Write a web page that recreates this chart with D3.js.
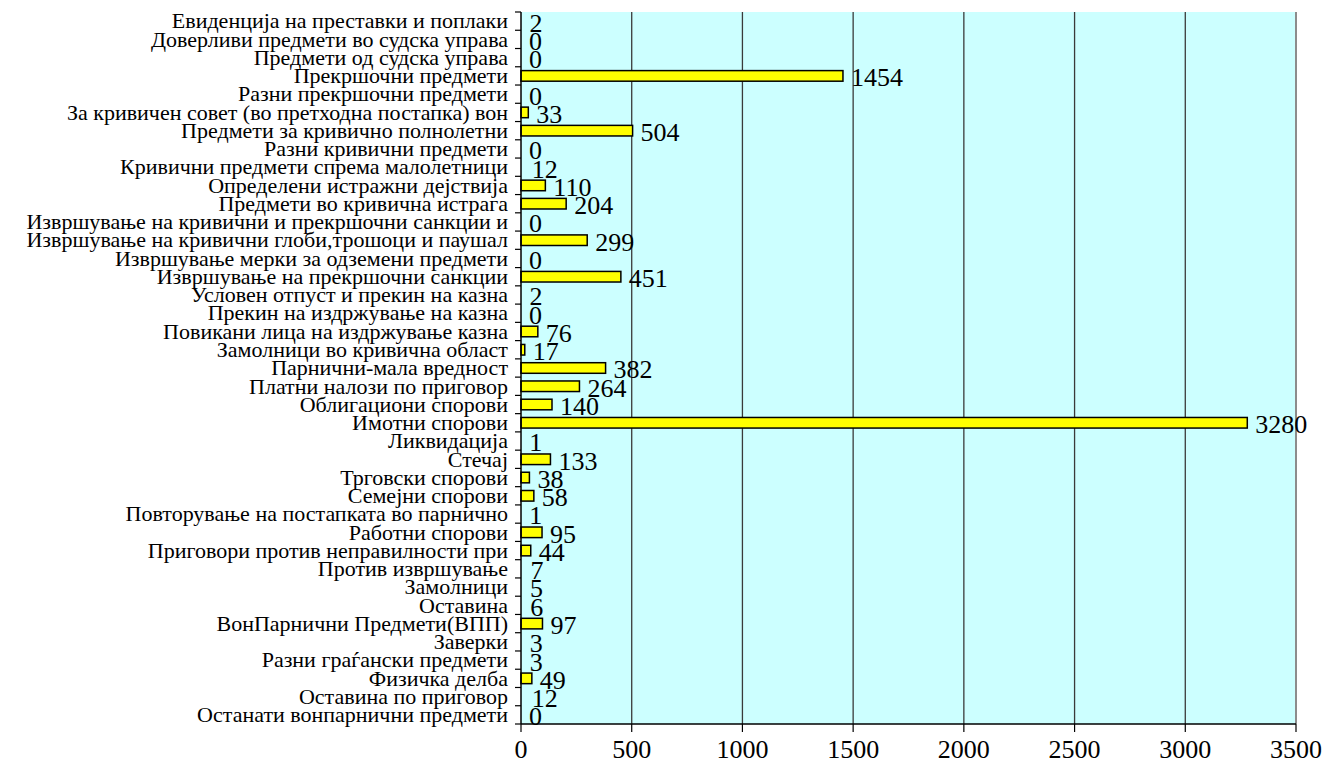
<!DOCTYPE html>
<html lang="mk">
<head>
  <meta charset="UTF-8">
  <title>Предмети</title>
  <script src="https://d3js.org/d3.v7.min.js"></script>
  <style>
    body { margin: 0; background: #fff; }
    .cat { font-family: "Liberation Serif", "Times New Roman", serif; font-size: 22px; fill: #000; }
    .val { font-family: "Liberation Serif", "Times New Roman", serif; font-size: 26px; fill: #000; }
    .tick-x { font-family: "Liberation Serif", "Times New Roman", serif; font-size: 26px; fill: #000; }
    .bar { fill: #ffff00; stroke: #000; stroke-width: 1.5px; }
  </style>
</head>
<body>
<svg id="chart" width="1323" height="773"></svg>
<script>
  // categories top to bottom
  const categories = [
    "Евиденција на преставки и поплаки",
    "Доверливи предмети во судска управа",
    "Предмети од  судска управа",
    "Прекршочни предмети",
    "Разни прекршочни предмети",
    "За кривичен совет (во претходна постапка) вон",
    "Предмети за кривично полнолетни",
    "Разни кривични предмети",
    "Кривични предмети спрема малолетници",
    "Определени истражни дејствија",
    "Предмети во кривична истрага",
    "Извршување на кривични и прекршочни санкции и",
    "Извршување на кривични глоби,трошоци и паушал",
    "Извршување мерки за одземени предмети",
    "Извршување на прекршочни санкции",
    "Условен отпуст и прекин на казна",
    "Прекин на издржување на казна",
    "Повикани лица на издржување казна",
    "Замолници во кривична област",
    "Парнични-мала вредност",
    "Платни налози по приговор",
    "Облигациони спорови",
    "Имотни спорови",
    "Ликвидација",
    "Стечај",
    "Трговски спорови",
    "Семејни спорови",
    "Повторување на постапката во парнично",
    "Работни спорови",
    "Приговори против  неправилности при",
    "Против  извршување",
    "Замолници",
    "Оставина",
    "ВонПарнични Предмети(ВПП)",
    "Заверки",
    "Разни граѓански предмети",
    "Физичка делба",
    "Оставина по приговор",
    "Останати вонпарнични предмети"
  ];
  const values = [2, 0, 0, 1454, 0, 33, 504, 0, 12, 110, 204, 0, 299, 0, 451, 2, 0, 76, 17,
                  382, 264, 140, 3280, 1, 133, 38, 58, 1, 95, 44, 7, 5, 6, 97, 3, 3, 49, 12, 0];
  const xTicks = [0, 500, 1000, 1500, 2000, 2500, 3000, 3500];

  const svg = d3.select("#chart");
  const plot = { left: 521, right: 1296, top: 12, bottom: 724 };

  const x = d3.scaleLinear().domain([0, 3500]).range([plot.left, plot.right]);
  const y = d3.scaleBand().domain(categories).range([plot.top, plot.bottom])
              .paddingInner(0.42).paddingOuter(0.21);

  // plot background
  svg.append("rect")
     .attr("x", plot.left).attr("y", plot.top)
     .attr("width", plot.right - plot.left).attr("height", plot.bottom - plot.top)
     .attr("fill", "#ccffff");

  // gridlines
  svg.selectAll("line.grid").data(xTicks.slice(1, -1))
     .join("line")
     .attr("class", "grid")
     .attr("x1", d => x(d)).attr("x2", d => x(d))
     .attr("y1", plot.top).attr("y2", plot.bottom)
     .attr("stroke", "#3a3a3a").attr("stroke-width", 1.3);

  // right border
  svg.append("line")
     .attr("x1", x(3500)).attr("x2", x(3500))
     .attr("y1", plot.top).attr("y2", plot.bottom)
     .attr("stroke", "#8c8c8c").attr("stroke-width", 2);

  // bars (very thin ones disappear behind the axis in the original)
  svg.selectAll("rect.bar").data(values)
     .join("rect")
     .attr("class", "bar")
     .attr("x", x(0))
     .attr("y", (d, i) => y(categories[i]))
     .attr("width", d => x(d) - x(0))
     .attr("height", y.bandwidth())
     .style("display", d => x(d) - x(0) > 3 ? null : "none");

  // value labels
  svg.selectAll("text.val").data(values)
     .join("text")
     .attr("class", "val")
     .attr("x", d => x(d) + 8)
     .attr("y", (d, i) => y(categories[i]) + y.bandwidth() / 2)
     .attr("dy", "0.4em")
     .text(d => d);

  // left axis
  const yAxis = d3.scaleLinear().domain([0, categories.length]).range([plot.top, plot.bottom]);
  svg.append("line")
     .attr("x1", plot.left).attr("x2", plot.left)
     .attr("y1", plot.top).attr("y2", plot.bottom)
     .attr("stroke", "#000").attr("stroke-width", 1.5);
  svg.selectAll("line.ytick").data(d3.range(categories.length + 1))
     .join("line")
     .attr("class", "ytick")
     .attr("x1", plot.left - 6).attr("x2", plot.left)
     .attr("y1", d => yAxis(d)).attr("y2", d => yAxis(d))
     .attr("stroke", "#000").attr("stroke-width", 1.2);

  svg.selectAll("text.cat").data(categories)
     .join("text")
     .attr("class", "cat")
     .attr("text-anchor", "end")
     .attr("x", plot.left - 13)
     .attr("y", d => y(d) + y.bandwidth() / 2)
     .attr("dy", "0.33em")
     .text(d => d);

  // bottom axis
  svg.append("line")
     .attr("x1", plot.left).attr("x2", plot.right)
     .attr("y1", plot.bottom).attr("y2", plot.bottom)
     .attr("stroke", "#000").attr("stroke-width", 1.5);
  svg.selectAll("line.xtick").data(xTicks)
     .join("line")
     .attr("class", "xtick")
     .attr("x1", d => x(d)).attr("x2", d => x(d))
     .attr("y1", plot.bottom).attr("y2", plot.bottom + 8)
     .attr("stroke", "#000").attr("stroke-width", 1.2);
  svg.selectAll("text.tick-x").data(xTicks)
     .join("text")
     .attr("class", "tick-x")
     .attr("text-anchor", "middle")
     .attr("x", d => x(d))
     .attr("y", plot.bottom + 34)
     .text(d => d);
</script>
</body>
</html>
